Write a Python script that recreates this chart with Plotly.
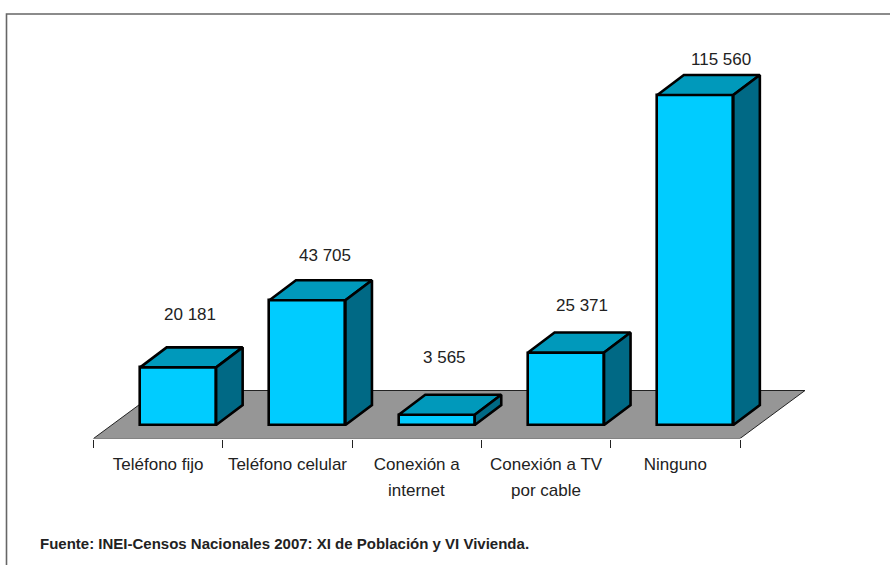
import plotly.graph_objects as go

categories = ["Teléfono fijo", "Teléfono celular", "Conexión a", "Conexión a TV", "Ninguno"]
category_second_line = ["", "", "internet", "por cable", ""]
values = [20181, 43705, 3565, 25371, 115560]
value_labels = ["20 181", "43 705", "3 565", "25 371", "115 560"]
source_note = "Fuente: INEI-Censos Nacionales 2007: XI de Población y VI Vivienda."

W, H = 890, 565
band_px = 129.3
left_px = 93.5
base_px = 425.0
axis_px = 438.5
val_px = 330.0 / 115560

def px_x(p):
    return p / band_px

def px_y(p):
    return p / val_px

x0 = -left_px / band_px
x1 = (W - left_px) / band_px
y0 = -px_y(axis_px - base_px)
y1 = px_y(base_px)

bar_center_shift = px_x(20)
bar_width = px_x(76)
depth_x = px_x(26.5)
depth_y = px_y(20)
floor_dx = px_x(65)
floor_dy = px_y(48)

FRONT = "#00CCFF"
TOP = "#0099BB"
SIDE = "#006985"
FLOOR = "#969696"
TEXT = "#222222"
FRAME = "#666666"

n = len(values)
centers = [i + 0.5 + bar_center_shift for i in range(n)]

fig = go.Figure()
fig.add_trace(go.Bar(
    x=centers, y=values, width=bar_width, base=0,
    marker=dict(color=FRONT, line=dict(color="black", width=2.6)),
    showlegend=False, hoverinfo="y",
))

for c, v in zip(centers, values):
    l, r = c - bar_width / 2, c + bar_width / 2
    fig.add_trace(go.Scatter(
        x=[l, r, r + depth_x, l + depth_x, l],
        y=[v, v, v + depth_y, v + depth_y, v],
        mode="lines", fill="toself", fillcolor=TOP,
        line=dict(color="black", width=2.6), showlegend=False, hoverinfo="skip",
    ))
    fig.add_trace(go.Scatter(
        x=[r, r + depth_x, r + depth_x, r, r],
        y=[0, depth_y, v + depth_y, v, 0],
        mode="lines", fill="toself", fillcolor=SIDE,
        line=dict(color="black", width=2.6), showlegend=False, hoverinfo="skip",
    ))

floor_path = (
    f"M 0 {y0} L {n} {y0} L {n + floor_dx} {y0 + floor_dy} "
    f"L {floor_dx} {y0 + floor_dy} Z"
)

# Pixel nudges of the value labels relative to the top of each bar
label_dx = [12, 18, 8, 16, 26]
label_dy = [-53, -45, -57, -47, -36]
annotations = [
    dict(x=c, y=v, xref="x", yref="y", text=t, showarrow=False,
         xshift=dx, yshift=-dy, font=dict(size=17, color=TEXT))
    for c, v, t, dx, dy in zip(centers, values, value_labels, label_dx, label_dy)
]
for i, line in enumerate(category_second_line):
    if line:
        annotations.append(dict(
            x=i + 0.5, y=1 - 490 / H, xref="x", yref="paper", yanchor="middle",
            text=line, showarrow=False, font=dict(size=17, color=TEXT),
        ))
annotations.append(dict(
    x=38 / W, y=1 - 543 / H, xref="paper", yref="paper", xanchor="left", yanchor="middle",
    text=f"<b>{source_note}</b>", showarrow=False, font=dict(size=15, color=TEXT),
))

fig.update_layout(
    width=W, height=H, margin=dict(l=0, r=0, t=0, b=0),
    paper_bgcolor="white", plot_bgcolor="rgba(0,0,0,0)",
    font=dict(family="Liberation Sans, Arial, sans-serif", size=17, color=TEXT),
    showlegend=False, bargap=0,
    xaxis=dict(
        domain=[0, 1], range=[x0, x1], showgrid=False, zeroline=False, showline=False,
        tickmode="array", tickvals=[i + 0.5 for i in range(n)], ticktext=categories,
        ticks="outside", ticklen=10, tickcolor="rgba(0,0,0,0)",
        tickfont=dict(size=17, color=TEXT),
        minor=dict(tickmode="array", tickvals=list(range(n + 1)), ticks="outside",
                   ticklen=8, tickwidth=1, tickcolor="#222222", showgrid=False),
    ),
    yaxis=dict(
        domain=[1 - axis_px / H, 1], range=[y0, y1], visible=False, showgrid=False,
    ),
    shapes=[
        dict(type="path", path=floor_path, xref="x", yref="y", layer="below",
             fillcolor=FLOOR, line=dict(color="#222222", width=1)),
        dict(type="path", path=f"M {6.5 / W} 0 L {6.5 / W} {1 - 14 / H} L 1 {1 - 14 / H}",
             xref="paper", yref="paper", line=dict(color=FRAME, width=1.6)),
    ],
    annotations=annotations,
)

fig.write_html("out.html", config={"displayModeBar": False},
               post_script="document.body.style.margin='0';")
